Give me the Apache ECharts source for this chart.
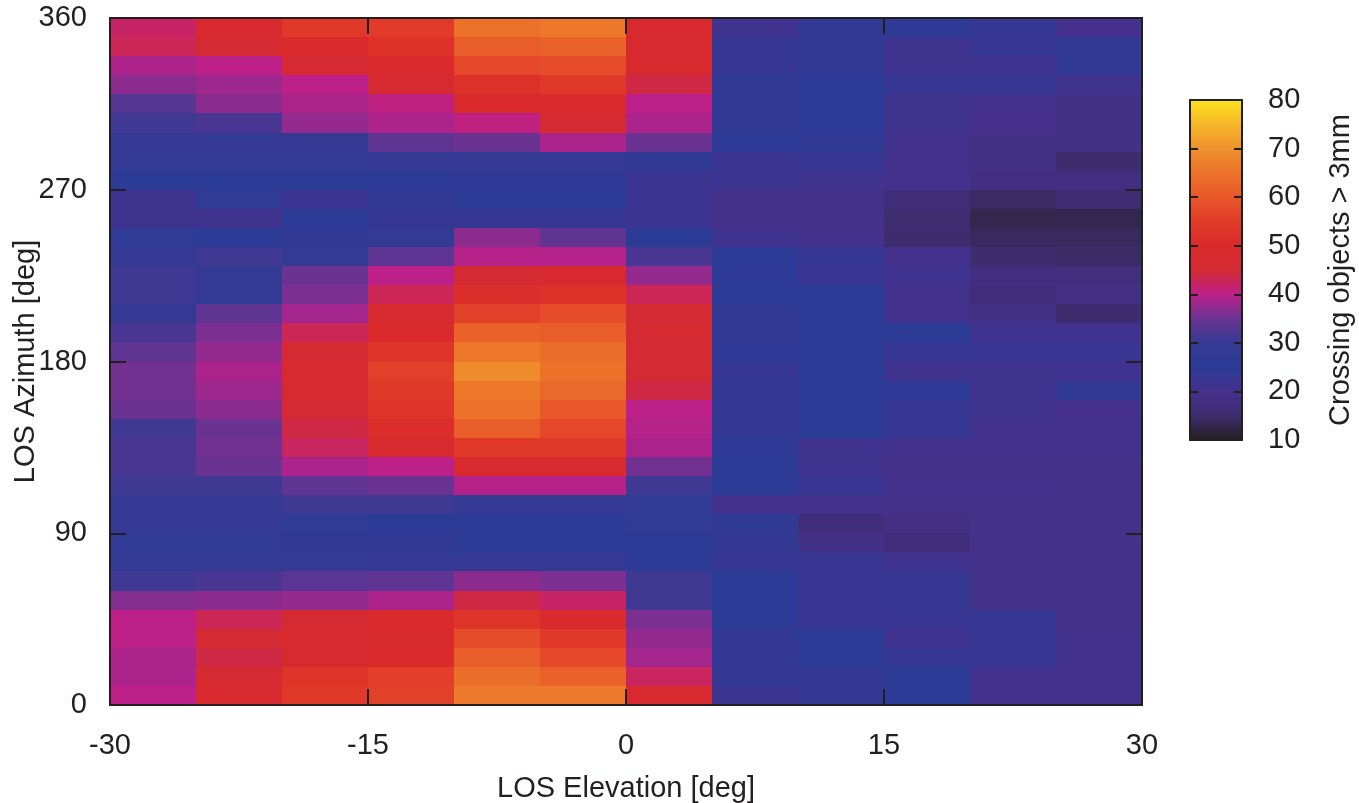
<!DOCTYPE html>
<html>
<head>
<meta charset="utf-8">
<title>LOS crossing objects</title>
<script src="https://cdn.jsdelivr.net/npm/echarts@6/dist/echarts.min.js"></script>
<style>
html, body { margin: 0; padding: 0; background: #fff; }
#ct1 { width: 1359px; height: 803px; }
</style>
</head>
<body>
<div id="ct1"></div>
<script>
// elevation bin centres (deg), left to right
var elevation = [-27.5, -22.5, -17.5, -12.5, -7.5, -2.5, 2.5, 7.5, 12.5, 17.5, 22.5, 27.5];
// azimuth bin centres (deg), top row first
var azimuth = [355, 345, 335, 325, 315, 305, 295, 285, 275, 265, 255, 245, 235, 225, 215, 205, 195, 185,
	175, 165, 155, 145, 135, 125, 115, 105, 95, 85, 75, 65, 55, 45, 35, 25, 15, 5];
// crossing objects > 3mm, one row per azimuth bin (same order as azimuth)
var counts = [
	[42, 48, 54, 55, 65, 66, 48, 21, 24, 24.5, 23, 20],
	[43, 46, 50, 52, 61, 62, 48, 23, 24, 21, 23, 24],
	[39, 40, 46, 50, 57, 58, 48, 23, 24, 21, 21, 24],
	[37, 38, 40, 46, 52, 54, 44, 24, 25, 23, 23, 21],
	[33, 37, 39, 40.5, 50, 50, 40, 24, 25.5, 21, 20.5, 19],
	[31, 32, 37.5, 39, 40.5, 46, 39, 24, 25, 21, 20, 19],
	[30, 30, 30, 34, 35, 39, 35, 25.5, 24, 20.5, 19, 19],
	[29, 29, 29, 30, 30, 30, 28, 22, 23, 20.5, 19, 15],
	[25, 25, 25, 25, 26, 26, 22, 22, 21, 20.5, 18, 18],
	[21, 27, 22, 28, 25, 25, 22, 19.5, 19.5, 16.5, 14.5, 16],
	[21, 21, 25, 23, 23, 23, 22, 19.5, 19.5, 15.5, 13, 13],
	[27, 25, 28, 29, 37, 34, 25, 21, 20.5, 15, 14, 14],
	[30, 31, 29, 34, 39.5, 39.5, 32, 25.5, 23, 20.5, 15, 14.5],
	[31, 29, 35, 40, 45, 48, 37.5, 26, 22.5, 21, 18, 17.5],
	[31, 29, 36, 43, 51, 52, 43, 25, 25.5, 20.5, 17, 18.5],
	[29, 34, 38.5, 47, 56, 58, 45, 24, 25.5, 20.5, 19, 15],
	[32, 36, 43, 50, 62, 61, 46, 24, 25.5, 25.5, 21, 21],
	[34, 37.5, 46, 53, 66, 64, 45, 24.5, 25.5, 23, 22.5, 22.5],
	[35.5, 39, 47, 56, 69, 65, 45, 23, 25.5, 21, 21, 21],
	[35.5, 38, 47, 54, 66, 63, 44, 23.5, 25.5, 24.5, 21, 24],
	[35, 37, 46, 53, 65, 60, 40, 23.5, 25.5, 23, 21, 20],
	[31, 35, 44, 51, 61, 57, 39.5, 23.5, 25.5, 23, 20.5, 20.5],
	[32, 35.5, 42.5, 48, 54, 54, 39, 24.5, 21, 20.5, 20.5, 20.5],
	[32, 35, 39, 40, 48, 48, 35.5, 25.5, 21, 19.5, 19.5, 19.5],
	[31, 31, 34, 35, 39.5, 39.5, 31, 25.5, 22.5, 20.5, 20.5, 19.5],
	[30, 30, 31, 31, 30, 30, 27, 20.5, 20.5, 19.5, 19.5, 19.5],
	[30, 30, 27, 25, 25, 25, 27, 24, 17, 18.5, 19.5, 19.5],
	[27, 27, 28, 28, 25, 25, 25.5, 23.5, 19, 17, 19.5, 19.5],
	[29, 29, 29, 30, 30, 30, 25.5, 23, 22.5, 21, 19.5, 19.5],
	[31, 32, 33.5, 34, 37, 36, 31, 25.5, 22.5, 23, 19.5, 19.5],
	[36.5, 37, 37.5, 39, 44, 42, 31, 25.5, 22.5, 23, 19.5, 19.5],
	[40, 43, 46, 50, 53, 49, 36, 25.5, 22.5, 22.5, 23, 19.5],
	[40, 45, 48, 49, 58, 54, 37.5, 23.5, 25.5, 21, 23, 20.5],
	[39, 44, 48, 50, 61, 57, 38.5, 23.5, 25, 23, 23, 20.5],
	[39, 46, 53, 55.5, 64, 62, 42.5, 23.5, 23.5, 25.5, 20.5, 20.5],
	[40, 48, 54, 56, 66.5, 66.5, 48, 22, 23.5, 25.5, 20.5, 20.5]
];
var xRange = [-30, 30];
var yRange = [0, 360];
var scaleRange = [10, 80];

var ink = '#231f20';
var font = 'Liberation Sans, Arial, sans-serif';
var fs = 29;

// colour map, evenly spaced from 10 to 80
var palette = ['#231f20', '#3d2c6e', '#45318d', '#2b3b96', '#343a94', '#6a3392', '#bd2089', '#d42a33',
	'#da2a2b', '#e13b29', '#e8582a', '#ec722a', '#ef912c', '#f6b729', '#fde21c'];

var cells = [];
for (var i = 0; i < azimuth.length; i++) {
	for (var j = 0; j < elevation.length; j++) {
		cells.push([elevation[j], azimuth[i], counts[i][j]]);
	}
}
var halfX = (elevation[1] - elevation[0]) / 2;
var halfY = (azimuth[0] - azimuth[1]) / 2;

function renderCell(params, api) {
	var p0 = api.coord([api.value(0) - halfX, api.value(1) + halfY]);
	var p1 = api.coord([api.value(0) + halfX, api.value(1) - halfY]);
	var x0 = Math.round(p0[0]), y0 = Math.round(p0[1]);
	var x1 = Math.round(p1[0]), y1 = Math.round(p1[1]);
	return {
		type: 'rect',
		shape: { x: x0, y: y0, width: x1 - x0, height: y1 - y0 },
		style: { fill: api.visual('color') }
	};
}

function frameAxis(extra) {
	var base = {
		z: 10,
		splitLine: { show: false },
		nameMoveOverlap: false,
		axisLine: { show: true, onZero: false, lineStyle: { color: ink, width: 2 } },
		axisTick: { show: true, inside: true, length: 16, lineStyle: { color: ink, width: 2 } },
		axisLabel: { show: false }
	};
	for (var k in extra) base[k] = extra[k];
	return base;
}

var option1 = {
	backgroundColor: '#fff',
	animation: false,
	textStyle: { fontFamily: font, color: ink },
	grid: [
		{ left: 110, top: 18, width: 1032, height: 687, outerBoundsMode: 'none', containLabel: false },
		{ left: 1190, top: 100, width: 52, height: 340, outerBoundsMode: 'none', containLabel: false }
	],
	xAxis: [
		frameAxis({
			type: 'value', gridIndex: 0, position: 'bottom', min: xRange[0], max: xRange[1], interval: 15,
			axisLabel: { show: true, fontSize: fs, color: ink, fontFamily: font, margin: 26 },
			name: 'LOS Elevation [deg]', nameLocation: 'middle', nameGap: 69,
			nameTextStyle: { fontSize: fs, color: ink, fontFamily: font }
		}),
		frameAxis({ type: 'value', gridIndex: 0, position: 'top', min: xRange[0], max: xRange[1], interval: 15 }),
		frameAxis({ type: 'value', gridIndex: 1, position: 'bottom', min: 0, max: 1, axisTick: { show: false } }),
		frameAxis({ type: 'value', gridIndex: 1, position: 'top', min: 0, max: 1, axisTick: { show: false } })
	],
	yAxis: [
		frameAxis({
			type: 'value', gridIndex: 0, position: 'left', min: yRange[0], max: yRange[1], interval: 90,
			axisLabel: { show: true, fontSize: fs, color: ink, fontFamily: font, margin: 23 },
			name: 'LOS Azimuth [deg]', nameLocation: 'middle', nameGap: 70, nameRotate: 90,
			nameTextStyle: { fontSize: fs, color: ink, fontFamily: font }
		}),
		frameAxis({ type: 'value', gridIndex: 0, position: 'right', min: yRange[0], max: yRange[1], interval: 90 }),
		frameAxis({
			type: 'value', gridIndex: 1, position: 'right', min: scaleRange[0], max: scaleRange[1], interval: 10,
			axisTick: { show: true, inside: true, length: 8, lineStyle: { color: ink, width: 2 } },
			axisLabel: { show: true, fontSize: fs, color: ink, fontFamily: font, margin: 26 },
			name: 'Crossing objects > 3mm', nameLocation: 'middle', nameGap: 84, nameRotate: 90,
			nameTextStyle: { fontSize: fs, color: ink, fontFamily: font }
		}),
		frameAxis({
			type: 'value', gridIndex: 1, position: 'left', min: scaleRange[0], max: scaleRange[1], interval: 10,
			axisTick: { show: true, inside: true, length: 8, lineStyle: { color: ink, width: 2 } }
		})
	],
	visualMap: {
		type: 'continuous',
		min: scaleRange[0],
		max: scaleRange[1],
		dimension: 2,
		orient: 'vertical',
		left: 1190,
		top: 100,
		padding: 0,
		itemWidth: 52,
		itemHeight: 340,
		calculable: false,
		hoverLink: false,
		text: null,
		inRange: { color: palette }
	},
	series: [{
		type: 'custom',
		xAxisIndex: 0,
		yAxisIndex: 0,
		renderItem: renderCell,
		encode: { x: 0, y: 1 },
		data: cells
	}]
};

var myChart1 = echarts.init(document.getElementById('ct1'));
myChart1.setOption(option1, true);
window.onresize = myChart1.resize;
</script>
</body>
</html>
